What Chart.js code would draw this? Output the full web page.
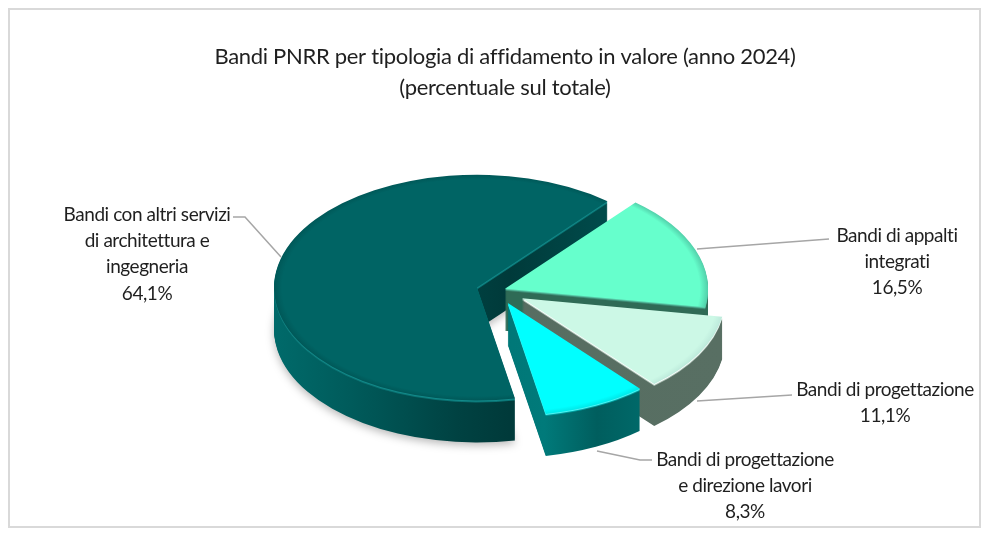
<!DOCTYPE html>
<html lang="it">
<head>
<meta charset="utf-8">
<title>Bandi PNRR</title>
<script src="https://cdn.jsdelivr.net/npm/chart.js@4"></script>
<style>
  html, body { margin: 0; padding: 0; background: #fff; }
  canvas { display: block; }
</style>
</head>
<body>
<canvas id="torta" width="986" height="538"></canvas>
<script>
// Dati
const categories = ['Bandi di appalti integrati', 'Bandi di progettazione', 'Bandi di progettazione e direzione lavori', 'Bandi con altri servizi di architettura e ingegneria'];
const values = [16.5, 11.1, 8.3, 64.1];
const titleLines = ['Bandi PNRR per tipologia di affidamento in valore (anno 2024)', '(percentuale sul totale)'];
const labelLines = [
    ['Bandi di appalti', 'integrati'],
    ['Bandi di progettazione'],
    ['Bandi di progettazione', 'e direzione lavori'],
    ['Bandi con altri servizi', 'di architettura e', 'ingegneria']
];

// Aspetto delle fette
const topColors = ['#66ffcc', '#ccf8e6', '#00ffff', '#006464'];
const edgeColors = ['#52d0aa', '#bdeadb', '#00e8e8', '#005858'];
const litColors = [['#58c8a6', '#3f8f78'], ['#fbfffd', '#a8bdb2'], ['#4ff5f5', '#00a2a2'], ['#128a8a', '#0a7272']];
const sideStops = [
    [[0, '#2f6b56'], [1, '#2f6b56']],
    [[0, '#566c60'], [1, '#586f63']],
    [[0, '#006b6b'], [0.59, '#007a7a'], [0.72, '#005e5e'], [0.82, '#006868'], [1, '#006868']],
    [[0, '#006a6a'], [0.2, '#005a5a'], [0.45, '#004242'], [0.58, '#003a3a'], [0.8, '#004a4a'], [1, '#004a4a']]
];
const explode = [8.5, 28.7, 25, 20.6];
const paintOrder = [3, 0, 1, 2];

// Posizione della torta e delle etichette
const pie = { x: 497, y: 290.5, radius: 203, tilt: 0.556, depth: 42 };
const labelPos = [
    { x: 897, y: 242 },
    { x: 885, y: 396 },
    { x: 745, y: 466 },
    { x: 147, y: 221 }
];
const leaders = [
    [[697, 249], [829, 239]],
    [[697, 401], [792, 395]],
    [[597, 451], [640, 460], [652, 460]],
    [[281, 257], [245, 217], [233, 217]]
];
const lineStep = 26.2;
const labelFont = '19px Lato';

function formatPct(v) {
    return v.toFixed(1).replace('.', ',') + '%';
}

// Disegna un arco della libreria con un altro riempimento
function paintArc(ctx, arc, fill, shiftY) {
    const mid = (arc.startAngle + arc.endAngle) / 2;
    const off = explode[arc.$index];
    const scale = pie.radius / arc.outerRadius;
    const copy = Object.create(arc);
    copy.options = { backgroundColor: fill, borderColor: fill, borderWidth: 0, borderAlign: 'center', borderRadius: 0, spacing: 0, offset: 0, circular: true };
    ctx.save();
    ctx.translate(pie.x + Math.cos(mid) * off, pie.y + Math.sin(mid) * off * pie.tilt + shiftY);
    ctx.scale(scale, scale * pie.tilt);
    ctx.translate(-arc.x, -arc.y);
    copy.draw(ctx);
    ctx.restore();
}

const pie3d = {
    id: 'pie3d',
    beforeDraw(chart) {
        const ctx = chart.ctx;
        ctx.letterSpacing = '-0.3px'; // il font originale e' piu' stretto
        ctx.save();
        ctx.fillStyle = '#fff';
        ctx.fillRect(0, 0, chart.width, chart.height);
        ctx.strokeStyle = '#d9d9d9';
        ctx.lineWidth = 2;
        ctx.strokeRect(9, 9, 971, 518);
        ctx.restore();
    },
    // la libreria non disegna il dataset: lo facciamo noi con la prospettiva
    beforeDatasetDraw() {
        return false;
    },
    afterDatasetsDraw(chart) {
        const ctx = chart.ctx;
        const arcs = chart.getDatasetMeta(0).data;

        paintOrder.forEach(i => {
            const arc = arcs[i];
            arc.$index = i;
            const R = arc.outerRadius;

            const side = ctx.createLinearGradient(arc.x - R, 0, arc.x + R, 0);
            sideStops[i].forEach(s => side.addColorStop(s[0], s[1]));
            ctx.save();
            if (i === 3) {
                ctx.shadowColor = 'rgba(0,0,0,0.28)';
                ctx.shadowBlur = 9;
                ctx.shadowOffsetY = 3;
            }
            paintArc(ctx, arc, side, pie.depth);
            ctx.restore();
            for (let k = pie.depth - 1; k >= 3; k--) {
                paintArc(ctx, arc, side, k);
            }
            // bordo illuminato davanti
            paintArc(ctx, arc, litColors[i][1], 2);
            paintArc(ctx, arc, litColors[i][0], 1);

            const top = ctx.createRadialGradient(arc.x, arc.y, 0, arc.x, arc.y, R);
            top.addColorStop(0, topColors[i]);
            top.addColorStop(0.96, topColors[i]);
            top.addColorStop(1, edgeColors[i]);
            paintArc(ctx, arc, top, 0);
        });

        // linee guida ed etichette
        ctx.save();
        ctx.strokeStyle = '#a6a6a6';
        ctx.lineWidth = 1.5;
        leaders.forEach(pts => {
            ctx.beginPath();
            pts.forEach((p, n) => n ? ctx.lineTo(p[0], p[1]) : ctx.moveTo(p[0], p[1]));
            ctx.stroke();
        });
        ctx.fillStyle = '#1f1f1f';
        ctx.font = labelFont;
        ctx.letterSpacing = '-0.45px';
        ctx.textAlign = 'center';
        ctx.textBaseline = 'alphabetic';
        labelLines.forEach((lines, i) => {
            const all = lines.concat(formatPct(values[i]));
            all.forEach((t, n) => ctx.fillText(t, labelPos[i].x, labelPos[i].y + n * lineStep));
        });
        ctx.restore();
    }
};

new Chart(document.getElementById('torta'), {
    type: 'pie',
    data: {
        labels: categories,
        datasets: [{
            data: values,
            backgroundColor: topColors,
            borderWidth: 0
        }]
    },
    options: {
        responsive: false,
        animation: false,
        rotation: 40,
        radius: pie.radius,
        layout: { padding: { left: 24 } },
        plugins: {
            legend: { display: false },
            tooltip: { enabled: false },
            title: {
                display: true,
                text: titleLines,
                color: '#1f1f1f',
                font: { family: 'Lato', size: 22, weight: 'normal', lineHeight: 1.4 },
                padding: { top: 42, bottom: 10 }
            }
        }
    },
    plugins: [pie3d]
});
</script>
</body>
</html>
